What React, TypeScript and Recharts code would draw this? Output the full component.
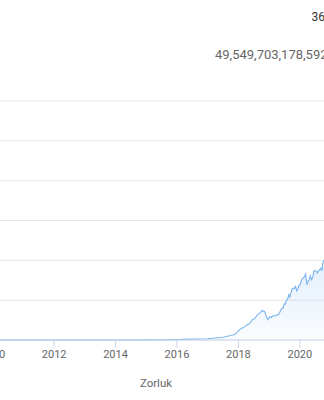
import { Area, AreaChart, CartesianGrid, XAxis, YAxis } from 'recharts';

// Bitcoin mining difficulty, in trillions (T)
const dates = [
  '2009-01-09', '2010-01-01', '2010-07-01', '2011-01-01', '2011-07-01', '2012-01-01',
  '2012-07-01', '2013-01-01', '2013-07-01', '2014-01-01', '2014-07-01', '2015-01-01',
  '2015-07-01', '2016-01-01', '2016-07-01', '2017-01-01', '2017-04-01', '2017-07-01',
  '2017-10-01', '2017-11-15', '2017-12-15', '2018-01-15', '2018-02-15', '2018-03-15',
  '2018-04-15', '2018-05-15', '2018-06-15', '2018-07-15', '2018-08-15', '2018-09-15',
  '2018-10-10', '2018-10-24', '2018-11-07', '2018-11-17', '2018-12-03', '2018-12-18',
  '2019-01-01', '2019-01-14', '2019-01-27', '2019-02-10', '2019-02-24', '2019-03-10',
  '2019-03-24', '2019-04-06', '2019-04-20', '2019-05-04', '2019-05-18', '2019-06-01',
  '2019-06-15', '2019-06-29', '2019-07-12', '2019-07-26', '2019-08-08', '2019-08-22',
  '2019-09-04', '2019-09-18', '2019-10-01', '2019-10-14', '2019-10-28', '2019-11-11',
  '2019-11-25', '2019-12-09', '2019-12-23', '2020-01-05', '2020-01-17', '2020-01-30',
  '2020-02-12', '2020-02-26', '2020-03-09', '2020-03-26', '2020-04-07', '2020-04-21',
  '2020-05-05', '2020-05-20', '2020-06-04', '2020-06-16', '2020-07-01', '2020-07-15',
  '2020-07-28', '2020-08-10', '2020-08-24', '2020-09-07', '2020-09-19', '2020-09-30',
  '2020-10-13', '2020-10-27', '2020-11-03', '2020-11-17', '2020-12-01', '2020-12-15',
  '2020-12-29', '2021-01-12', '2021-01-26', '2021-02-09', '2021-02-23', '2021-03-08',
  '2021-03-22', '2021-04-04', '2021-04-16', '2021-04-30', '2021-05-13', '2021-05-28',
  '2021-06-13', '2021-07-03', '2021-07-17', '2021-07-31', '2021-08-13', '2021-08-26',
  '2021-09-08', '2021-09-20', '2021-10-03', '2021-10-16', '2021-10-30', '2021-11-12',
  '2021-11-26', '2021-12-09', '2021-12-23', '2022-01-06', '2022-01-21', '2022-02-04',
  '2022-02-17', '2022-03-03', '2022-03-18', '2022-04-01', '2022-04-14', '2022-04-28',
  '2022-05-11', '2022-05-25', '2022-06-08', '2022-06-22', '2022-07-07', '2022-07-21',
  '2022-08-04', '2022-08-18', '2022-09-01', '2022-09-14', '2022-09-30', '2022-10-10',
  '2022-10-24', '2022-11-07', '2022-11-21', '2022-12-06', '2022-12-20', '2023-01-02',
  '2023-01-16', '2023-01-29', '2023-02-12', '2023-02-26', '2023-03-11', '2023-03-24',
  '2023-04-06', '2023-04-20', '2023-05-04', '2023-05-17', '2023-05-31', '2023-06-14',
  '2023-06-27', '2023-07-11', '2023-07-24', '2023-08-06', '2023-08-22', '2023-09-03',
  '2023-09-19',
];

const difficulty = [
  0, 0, 0, 0, 0.0000015, 0.0000012,
  0.0000019, 0.0000034, 0.000026, 0.0014, 0.017, 0.041,
  0.049, 0.103, 0.214, 0.317, 0.499, 0.709,
  1.12, 1.35, 1.93, 2.6, 3.0, 3.29,
  3.84, 4.14, 5.08, 5.36, 6.39, 6.73,
  7.45, 7.18, 7.18, 6.65, 5.65, 5.11,
  5.62, 5.88, 5.62, 5.96, 6.06, 6.07,
  6.07, 6.38, 6.35, 6.7, 7.46, 7.93,
  7.94, 9.06, 9.01, 9.99, 10.18, 11.35,
  10.77, 11.89, 12.76, 13.01, 12.97, 13.45,
  12.3, 12.88, 13.8, 13.8, 14.78, 15.47,
  15.55, 15.96, 16.55, 13.91, 14.72, 15.14,
  16.1, 15.14, 15.78, 17.35, 17.35, 17.21,
  16.85, 17.35, 17.56, 18.0, 17.35, 19.3,
  19.99, 19.99, 16.85, 18.67, 18.6, 19.16,
  18.6, 20.6, 20.82, 21.72, 21.45, 21.86,
  21.86, 23.14, 23.58, 20.61, 25.05, 21.05,
  19.93, 14.36, 13.67, 14.4, 15.56, 17.6,
  18.42, 18.42, 19.31, 19.93, 21.0, 22.34,
  22.33, 23.14, 24.27, 24.27, 26.69, 26.64,
  27.97, 27.55, 27.55, 28.59, 28.23, 29.79,
  31.25, 31.25, 30.28, 29.9, 29.57, 27.69,
  28.17, 28.35, 30.98, 32.05, 31.36, 35.61,
  36.84, 36.76, 36.95, 34.24, 35.36, 35.36,
  37.59, 39.35, 39.16, 43.05, 43.55, 46.84,
  47.89, 47.89, 48.71, 49.55, 51.23, 52.35,
  51.23, 53.91, 52.39, 52.39, 55.62, 54.15,
  57.12,
];

const yearTicks = [2010, 2012, 2014, 2016, 2018, 2020, 2022];
const difficultyTicks = [0, 10, 20, 30, 40, 50, 60];

const titleText = '36';
const subtitleText = '49,549,703,178,592';
const axisTitle = 'Zorluk';

// date string -> fractional year, so the time axis stays linear
function toYear(s: string) {
  const [y, m, d] = s.split('-').map(Number);
  const t0 = Date.UTC(y, 0, 1);
  const t1 = Date.UTC(y + 1, 0, 1);
  return y + (Date.UTC(y, m - 1, d) - t0) / (t1 - t0);
}

const data = dates.map((d, i) => ({ t: toYear(d), value: difficulty[i] }));

const FONT = 'Roboto, "Liberation Sans", Arial, sans-serif';

export default function App() {
  return (
    <div
      style={{
        position: 'absolute',
        left: 0,
        top: 0,
        width: 324,
        height: 400,
        overflow: 'hidden',
        background: '#fff',
        fontFamily: FONT,
      }}
    >
      <div style={{ position: 'absolute', left: -37.83, top: 0 }}>
        <AreaChart
          width={453}
          height={400}
          data={data}
          margin={{ top: 101, right: 0, bottom: 0, left: 0 }}
        >
          <defs>
            <linearGradient id="diffFill" x1="0" y1="0" x2="0" y2="1">
              <stop offset="0%" stopColor="#7cb5ec" stopOpacity={0.55} />
              <stop offset="100%" stopColor="#7cb5ec" stopOpacity={0.04} />
            </linearGradient>
          </defs>
          <CartesianGrid vertical={false} stroke="#e6e6e6" />
          <XAxis
            dataKey="t"
            type="number"
            domain={[2009, 2023.75]}
            ticks={yearTicks}
            interval={0}
            height={60}
            tickSize={8}
            axisLine={{ stroke: '#ccd6eb' }}
            tickLine={{ stroke: '#ccd6eb' }}
            tick={{ fill: '#666666', fontSize: 11, fontFamily: FONT }}
            allowDataOverflow
          />
          <YAxis hide domain={[0, 60]} ticks={difficultyTicks} />
          <Area
            type="linear"
            dataKey="value"
            stroke="#7cb5ec"
            strokeWidth={1.1}
            fill="url(#diffFill)"
            fillOpacity={1}
            dot={false}
            activeDot={false}
            isAnimationActive={false}
          />
        </AreaChart>
      </div>
      <svg
        width={324}
        height={400}
        style={{ position: 'absolute', left: 0, top: 0, pointerEvents: 'none' }}
      >
        <text x={311.5} y={20.7} fontSize={12} fill="#333333" fontFamily={FONT}>
          {titleText}
        </text>
        <text x={215} y={58.5} fontSize={13} fill="#666666" fontFamily={FONT}>
          {subtitleText}
        </text>
        <text x={156} y={386.7} fontSize={11.5} fill="#666666" textAnchor="middle" fontFamily={FONT}>
          {axisTitle}
        </text>
      </svg>
    </div>
  );
}
